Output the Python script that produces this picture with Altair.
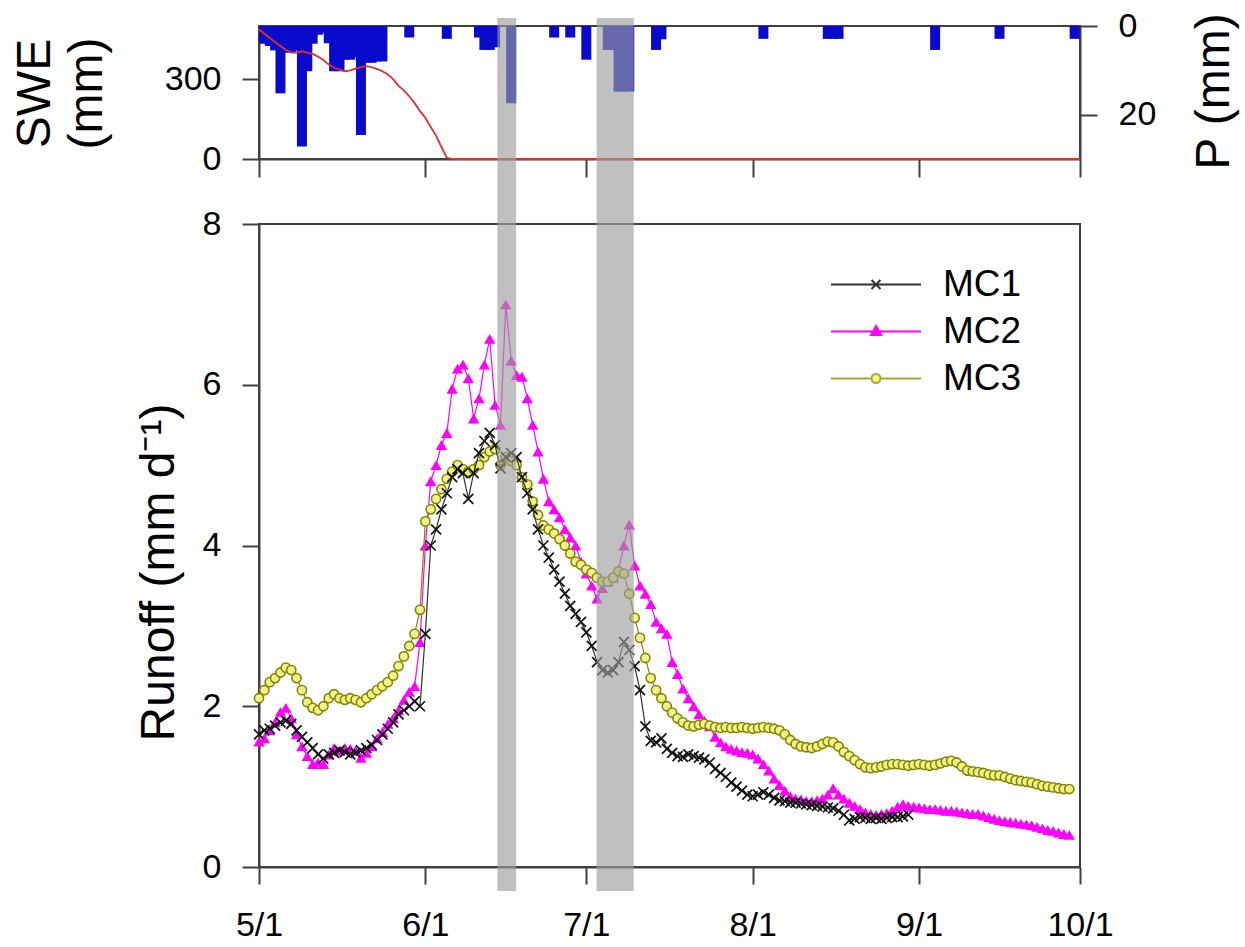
import altair as alt
import pandas as pd

FONT = "Liberation Sans"

# ---------------- data ----------------
series_names = ["MC1", "MC2", "MC3"]

# daily runoff (mm/d) starting 5/1
mc1 = [1.65, 1.70, 1.72, 1.76, 1.80, 1.82, 1.78, 1.70, 1.62, 1.55,
       1.48, 1.40, 1.35, 1.40, 1.42, 1.45, 1.43, 1.40, 1.42, 1.45,
       1.48, 1.52, 1.58, 1.65, 1.72, 1.80, 1.90, 1.95, 2.00, 2.06,
       2.00, 2.90, 4.00, 4.20, 4.45, 4.65, 4.85, 4.95, 4.90, 4.58,
       4.90, 5.15, 5.30, 5.40, 5.25, 4.96, 5.10, 5.15, 5.10, 4.85,
       4.65, 4.45, 4.20, 4.00, 3.85, 3.70, 3.55, 3.40, 3.25, 3.15,
       3.05, 2.92, 2.75, 2.55, 2.45, 2.42, 2.45, 2.55, 2.80, 2.70,
       2.50, 2.20, 1.75, 1.57, 1.55, 1.60, 1.47, 1.42, 1.38, 1.37,
       1.40, 1.38, 1.36, 1.34, 1.30, 1.22, 1.17, 1.12, 1.05, 1.00,
       0.95, 0.90, 0.88, 0.90, 0.93, 0.90, 0.86, 0.83, 0.82, 0.80,
       0.80, 0.79, 0.78, 0.77, 0.76, 0.75, 0.74, 0.73, 0.70, 0.65,
       0.58, 0.60, 0.62, 0.61, 0.60, 0.61, 0.60, 0.61, 0.62, 0.62,
       0.63, 0.65]

mc2 = [1.56, 1.60, 1.70, 1.80, 1.93, 1.98, 1.85, 1.65, 1.50, 1.38,
       1.28, 1.30, 1.28, 1.40, 1.48, 1.45, 1.48, 1.47, 1.45, 1.36,
       1.42, 1.50, 1.60, 1.68, 1.78, 1.85, 1.95, 2.08, 2.18, 2.25,
       2.80, 4.00, 4.80, 5.00, 5.25, 5.40, 5.95, 6.20, 6.25, 6.08,
       5.58, 5.83, 6.25, 6.57, 5.75, 5.50, 7.00, 6.30, 6.12, 6.10,
       5.83, 5.50, 5.17, 4.83, 4.55, 4.45, 4.35, 4.20, 4.10, 4.00,
       3.80, 3.65, 3.50, 3.34, 3.47, 3.55, 3.60, 3.70, 4.00, 4.26,
       3.75, 3.50, 3.40, 3.27, 3.05, 2.97, 2.90, 2.55, 2.40, 2.22,
       2.10, 2.00, 1.90, 1.82, 1.75, 1.62, 1.55, 1.50, 1.47, 1.45,
       1.43, 1.42, 1.40, 1.35, 1.28, 1.20, 1.10, 1.02, 0.95, 0.88,
       0.85, 0.84, 0.82, 0.82, 0.83, 0.85, 0.90, 0.98, 0.90, 0.85,
       0.80, 0.76, 0.72, 0.68, 0.66, 0.65, 0.66, 0.67, 0.70, 0.75,
       0.78, 0.76, 0.75, 0.74, 0.73, 0.72, 0.72, 0.71, 0.70, 0.70,
       0.69, 0.68, 0.67, 0.66, 0.66, 0.64, 0.62, 0.60, 0.58, 0.57,
       0.56, 0.55, 0.54, 0.53, 0.52, 0.50, 0.48, 0.46, 0.45, 0.43,
       0.41, 0.40]

mc3 = [2.10, 2.20, 2.30, 2.35, 2.42, 2.48, 2.45, 2.35, 2.20, 2.05,
       1.98, 1.95, 2.00, 2.10, 2.15, 2.10, 2.08, 2.10, 2.08, 2.05,
       2.10, 2.15, 2.20, 2.25, 2.30, 2.38, 2.50, 2.62, 2.75, 2.90,
       3.20, 4.30, 4.45, 4.58, 4.70, 4.83, 4.92, 5.00, 4.95, 4.92,
       4.95, 5.00, 5.10, 5.17, 5.20, 5.00, 5.10, 5.05, 5.00, 4.85,
       4.76, 4.55, 4.38, 4.25, 4.20, 4.15, 4.08, 4.00, 3.90, 3.80,
       3.76, 3.70, 3.66, 3.60, 3.55, 3.55, 3.60, 3.68, 3.65, 3.40,
       3.10, 2.85, 2.60, 2.35, 2.20, 2.10, 2.00, 1.92, 1.85, 1.80,
       1.76, 1.75, 1.77, 1.78, 1.76, 1.74, 1.73, 1.74, 1.73, 1.73,
       1.74, 1.73, 1.72, 1.73, 1.74, 1.73, 1.72, 1.70, 1.65, 1.58,
       1.53, 1.50, 1.49, 1.48, 1.50, 1.53, 1.56, 1.55, 1.50, 1.43,
       1.38, 1.33, 1.28, 1.24, 1.23, 1.24, 1.25, 1.27, 1.28, 1.28,
       1.27, 1.26, 1.27, 1.28, 1.27, 1.26, 1.27, 1.29, 1.31, 1.32,
       1.30, 1.25, 1.20, 1.19, 1.18, 1.17, 1.15, 1.14, 1.14, 1.12,
       1.10, 1.08, 1.07, 1.06, 1.05, 1.03, 1.01, 1.00, 0.99, 0.98,
       0.97, 0.97]

# daily snow water equivalent (mm) from 5/1 to 10/1
swe = [487, 472, 455, 440, 425, 410, 400, 400, 405, 400,
       395, 385, 372, 355, 343, 336, 330, 333, 340, 345,
       349, 345, 338, 330, 318, 300, 275, 258, 236, 210,
       180, 155, 120, 88, 45, 5] + [0] * 118

# daily precipitation (mm)
precip_dates = ["2013-05-01", "2013-05-02", "2013-05-03", "2013-05-04", "2013-05-05",
                "2013-05-06", "2013-05-07", "2013-05-08", "2013-05-09", "2013-05-10",
                "2013-05-11", "2013-05-12", "2013-05-13", "2013-05-14", "2013-05-15",
                "2013-05-16", "2013-05-17", "2013-05-18", "2013-05-19", "2013-05-20",
                "2013-05-21", "2013-05-22", "2013-05-23", "2013-05-24", "2013-05-29",
                "2013-06-05", "2013-06-11", "2013-06-12", "2013-06-13", "2013-06-14",
                "2013-06-17", "2013-06-25", "2013-06-28", "2013-07-01", "2013-07-05",
                "2013-07-06", "2013-07-07", "2013-07-08", "2013-07-09", "2013-07-14",
                "2013-07-15", "2013-08-03", "2013-08-15", "2013-08-16", "2013-08-17",
                "2013-09-04", "2013-09-16", "2013-09-30"]
precip_mm = [3.5, 4.0, 4.5, 5.5, 15.2,
             6.0, 6.0, 5.5, 27.2, 10.2,
             4.0, 2.0, 1.5, 3.9, 10.2,
             10.2, 7.6, 7.6, 7.0, 24.6,
             8.3, 8.3, 8.0, 8.0, 2.6,
             2.9, 2.6, 5.4, 5.4, 4.8,
             17.4, 2.6, 2.6, 7.6, 5.4,
             5.4, 14.8, 14.8, 14.8, 5.4,
             3.0, 2.9, 2.9, 2.9, 2.9,
             5.4, 2.9, 2.9]

# shaded rain events
band_start = ["2013-06-14T10:00:00Z", "2013-07-02T22:00:00Z"]
band_end = ["2013-06-17T22:00:00Z", "2013-07-09T20:00:00Z"]

month_ticks = [5, 6, 7, 8, 9, 10]

# ---------------- tables ----------------
def day_strings(n):
    base = pd.Timestamp("2013-05-01")
    return [(base + pd.Timedelta(days=i)).strftime("%Y-%m-%dT%H:%M:%SZ") for i in range(n)]

rows = []
for name, vals in zip(series_names, [mc1, mc2, mc3]):
    for d, v in zip(day_strings(len(vals)), vals):
        rows.append({"date": d, "series": name, "runoff": v})
runoff_df = pd.DataFrame(rows)

swe_df = pd.DataFrame({"date": day_strings(len(swe)), "swe": swe})
precip_df = pd.DataFrame({"date": [d + "T00:00:00Z" for d in precip_dates], "p": precip_mm})
band_df = pd.DataFrame({"start": band_start, "end": band_end})

# ---------------- scales / axes ----------------
x_scale = alt.Scale(type="utc", padding=0,
                    domain=[alt.DateTime(year=2013, month=5, date=1, utc=True),
                            alt.DateTime(year=2013, month=10, date=1, utc=True)])
tick_vals = [alt.DateTime(year=2013, month=m, date=1, utc=True) for m in month_ticks]

top_x_axis = alt.Axis(values=tick_vals, labels=False, title=None, tickSize=18, grid=False)
bot_x_axis = alt.Axis(values=tick_vals, format="%-m/%-d", title=None, labelFlush=False,
                      labelOverlap=False, labelPadding=24, grid=False)

BAND_COLOR = "#9c9c9c"
BAND_OPACITY = 0.64

MC1_COLOR = "#111111"
MC2_COLOR = "#ff00ff"
MC3_STROKE = "#858500"
MC3_FILL = "#f2f28a"

# ---------------- top panel ----------------
bars = alt.Chart(precip_df).mark_bar(size=10, color="#0a0acc", clip=True).encode(
    x=alt.X("date:T", scale=x_scale, axis=top_x_axis),
    y=alt.Y("p:Q", scale=alt.Scale(domain=[0, 30], reverse=True),
            axis=alt.Axis(orient="right", values=[0, 20], title="P (mm)",
                          titleAngle=270, titleBaseline="alphabetic", titleAlign="center",
                          titleX=148, titleY=65)),
)

swe_line = alt.Chart(swe_df).mark_line(color="#e0302a", strokeWidth=1.8).encode(
    x=alt.X("date:T", scale=x_scale, axis=top_x_axis),
    y=alt.Y("swe:Q", scale=alt.Scale(domain=[0, 500]),
            axis=alt.Axis(orient="left", values=[0, 300], title=["SWE", "(mm)"],
                          titleAngle=270, titleBaseline="alphabetic", titleAlign="center",
                          titleX=-210, titleY=67, titleLineHeight=52)),
)

band_top = alt.Chart(band_df).mark_rect(color=BAND_COLOR, opacity=BAND_OPACITY).encode(
    x=alt.X("start:T", scale=x_scale, axis=top_x_axis),
    x2="end:T",
    y=alt.value(-8),
    y2=alt.value(133),
)

top = alt.layer(bars, swe_line, band_top).resolve_scale(y="independent").properties(
    width=821, height=133)

# ---------------- bottom panel ----------------
xb = alt.X("date:T", scale=x_scale, axis=bot_x_axis)
yb = alt.Y("runoff:Q", scale=alt.Scale(domain=[0, 8]),
           axis=alt.Axis(values=[0, 2, 4, 6, 8], title="Runoff (mm d\u207b\u00b9)",
                         titleAngle=270, titleBaseline="alphabetic", titleAlign="center",
                         titleX=-86, titleY=348))

def series_base(name):
    return alt.Chart(runoff_df).transform_filter(alt.datum.series == name)

mc2_line = series_base("MC2").mark_line(color=MC2_COLOR, strokeWidth=1.2).encode(x=xb, y=yb)
mc2_pts = series_base("MC2").mark_point(shape="triangle-up", size=130, filled=True,
                                        color=MC2_COLOR, opacity=1).encode(x=xb, y=yb)
mc3_line = series_base("MC3").mark_line(color=MC3_STROKE, strokeWidth=1.2).encode(x=xb, y=yb)
mc3_pts = series_base("MC3").mark_point(shape="circle", size=85, filled=False, fill=MC3_FILL,
                                        stroke=MC3_STROKE, strokeWidth=1.6, opacity=1,
                                        fillOpacity=1).encode(x=xb, y=yb)
mc1_line = series_base("MC1").mark_line(color="#303030", strokeWidth=1.2).encode(x=xb, y=yb)
mc1_pts = series_base("MC1").mark_point(shape="M-1,-1L1,1M-1,1L1,-1", size=100, filled=False,
                                        stroke=MC1_COLOR, strokeWidth=1.7,
                                        opacity=1).encode(x=xb, y=yb)

# legend keys: a short line with the series marker in its middle
legend_paths = [
    "M-1.233,0L4.767,0M1.467,-0.3L2.067,0.3M1.467,0.3L2.067,-0.3",
    "M-1.233,0L4.767,0M1.767,-0.36L2.1,0.24L1.434,0.24Z",
    "M-1.233,0L1.467,0M2.067,0L4.767,0M1.467,0A0.3,0.3,0,1,1,2.067,0A0.3,0.3,0,1,1,1.467,0Z",
]
leg = alt.Legend(orient="none", legendX=572, legendY=42, title=None, symbolSize=900,
                 symbolStrokeWidth=2, labelFontSize=37, labelFont=FONT, labelColor="black",
                 labelOffset=75, rowPadding=9, padding=0)

legend_layer = alt.Chart(runoff_df).transform_filter("false").mark_point(
    size=900, strokeWidth=2, opacity=1, filled=False).encode(
    x=xb, y=yb,
    shape=alt.Shape("series:N", scale=alt.Scale(domain=series_names, range=legend_paths), legend=leg),
    stroke=alt.Stroke("series:N", scale=alt.Scale(domain=series_names,
                                                  range=["#333333", MC2_COLOR, "#a8a830"]), legend=leg),
    fill=alt.Fill("series:N", scale=alt.Scale(domain=series_names,
                                              range=["transparent", MC2_COLOR, MC3_FILL]), legend=leg),
)

band_bottom = alt.Chart(band_df).mark_rect(color=BAND_COLOR, opacity=BAND_OPACITY).encode(
    x=alt.X("start:T", scale=x_scale, axis=bot_x_axis),
    x2="end:T",
    y=alt.value(-65),
    y2=alt.value(667),
)

bottom = alt.layer(mc2_line, mc2_pts, mc3_line, mc3_pts, mc1_line, mc1_pts,
                   legend_layer, band_bottom).properties(width=821, height=643)

chart = alt.vconcat(top, bottom, spacing=65, bounds="flush").resolve_scale(
    x="independent", y="independent"
).resolve_legend(
    shape="independent", stroke="independent", fill="independent"
).properties(
    padding={"left": 10, "top": 8, "right": 2, "bottom": 5}
).configure(
    font=FONT, background="white"
).configure_axis(
    labelFont=FONT, titleFont=FONT, labelFontSize=34, titleFontSize=48,
    labelColor="black", titleColor="black", titleFontWeight="normal",
    domainColor="#404040", domainWidth=2, tickColor="#404040", tickWidth=2,
    tickSize=17, labelPadding=21, grid=False,
).configure_view(stroke="#404040", strokeWidth=2)

chart.save("out.html", embed_options={"renderer": "svg", "actions": False})
